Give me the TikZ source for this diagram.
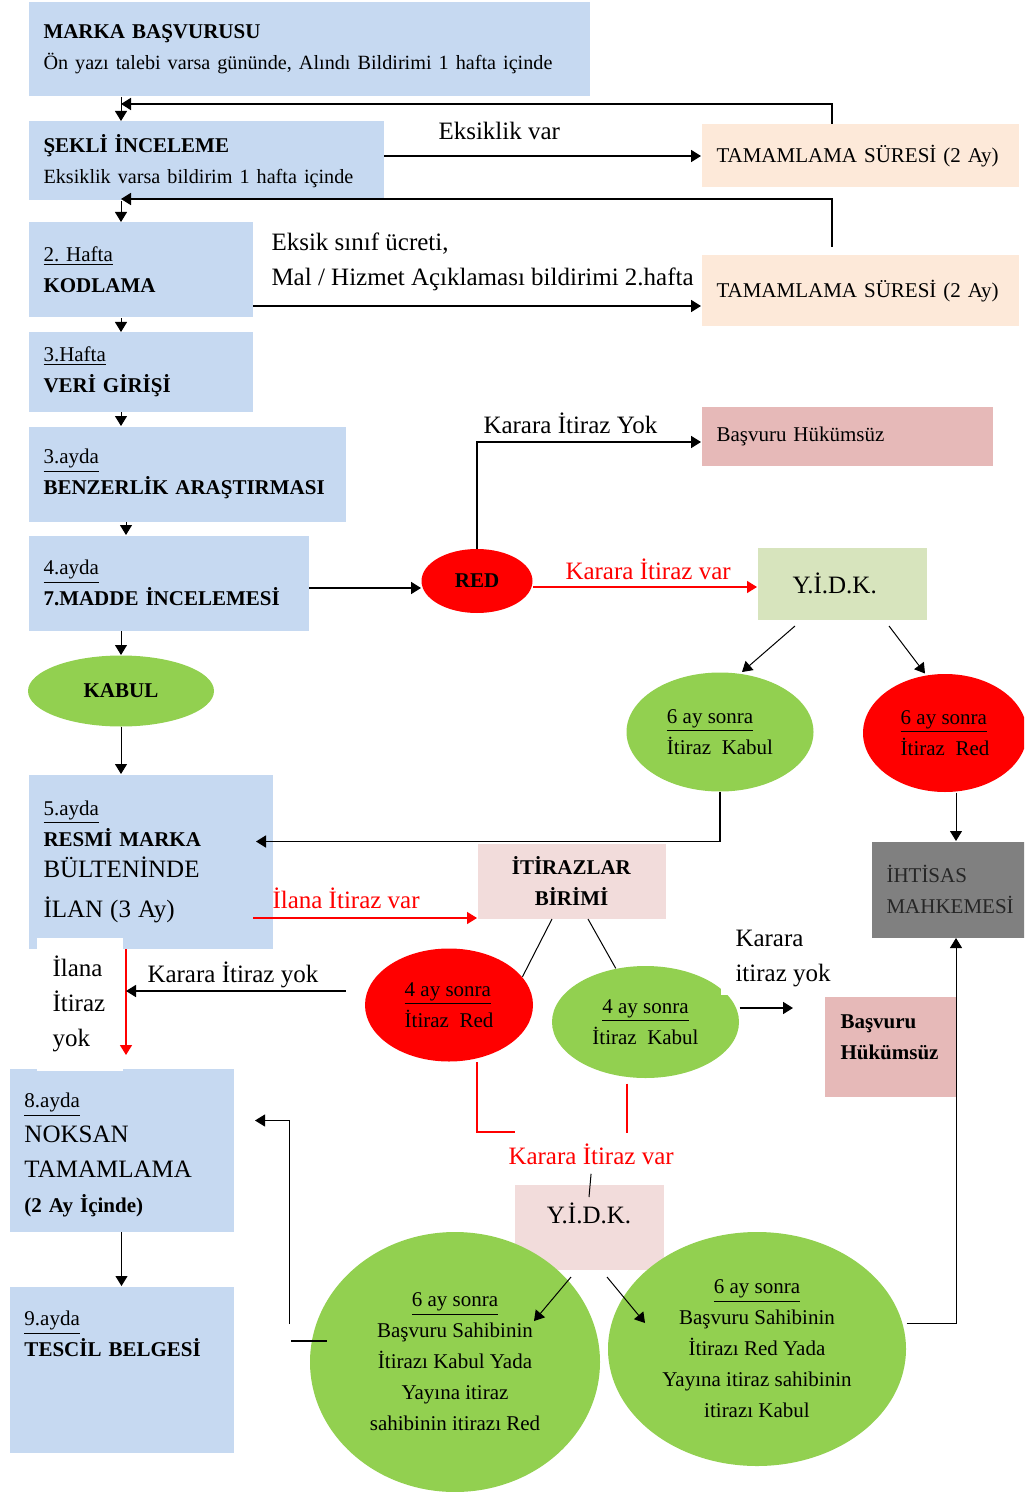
\documentclass[tikz,border=0pt]{standalone}
\usepackage{fontspec}
\setmainfont{Liberation Serif}
\usetikzlibrary{shapes.geometric, arrows.meta, positioning}

\definecolor{boxblue}{RGB}{198,217,241}
\definecolor{boxpeach}{RGB}{253,233,217}
\definecolor{boxrose}{RGB}{230,185,184}
\definecolor{boxsage}{RGB}{215,228,189}
\definecolor{boxpink}{RGB}{242,220,219}
\definecolor{boxgrey}{RGB}{128,128,128}
\definecolor{ovalgreen}{RGB}{146,208,80}
\definecolor{ovalred}{RGB}{255,0,0}

\newcommand{\txtS}{\fontsize{10.5}{15.5}\selectfont}
\newcommand{\txtN}{\fontsize{10.1}{15.5}\selectfont}
\newcommand{\txtL}{\fontsize{12.5}{17.5}\selectfont}
\frenchspacing

\begin{document}
\begin{tikzpicture}[>={Triangle[length=5pt,width=6pt]}, x=0.5pt, y=-0.5pt, line width=0.5pt]
	\tikzstyle{bluebox}=[fill=boxblue, anchor=north west, align=left, inner xsep=7.5pt, inner ysep=0pt, font=\txtS]
	\tikzstyle{sidebox}=[anchor=north west, align=left, inner xsep=7.5pt, inner ysep=0pt, font=\txtS]
	\tikzstyle{oval}=[ellipse, inner sep=0pt, align=left, font=\txtS]
	\tikzstyle{lbl}=[inner sep=0pt, anchor=base west, font=\txtL]
	\tikzstyle{heavy}=[line width=0.85pt]
	\tikzstyle{redline}=[draw=ovalred, line width=0.7pt]

	\clip (0,0) rectangle (1024,1492);

	\node[bluebox, text width=265.5pt, minimum height=47pt] (basvuru) at (28,2)
		{\textbf{MARKA BAŞVURUSU}\\{\txtN Ön yazı talebi varsa gününde, Alındı Bildirimi 1 hafta içinde}};
	\node[bluebox, text width=162.5pt, minimum height=39.5pt] (sekli) at (28,121)
		{\textbf{ŞEKLİ İNCELEME}\\{\txtN Eksiklik varsa bildirim 1 hafta içinde}};
	\node[bluebox, text width=97pt, minimum height=47.5pt] (kodlama) at (28,222)
		{\underline{2. Hafta}\\\textbf{KODLAMA}};
	\node[bluebox, text width=97pt, minimum height=39.5pt] (veri) at (28,332)
		{\underline{3.Hafta}\\\textbf{VERİ GİRİŞİ}};
	\node[bluebox, text width=143.5pt, minimum height=47.5pt] (benzerlik) at (28,426)
		{\underline{3.ayda}\\\textbf{BENZERLİK ARAŞTIRMASI}};
	\node[bluebox, text width=125pt, minimum height=47.5pt] (madde) at (28,535)
		{\underline{4.ayda}\\\textbf{7.MADDE İNCELEMESİ}};
	\node[oval, fill=ovalgreen, minimum width=93pt, minimum height=35.5pt] (kabul) at (121,691)
		{\textbf{KABUL}};
	\node[bluebox, text width=107pt, minimum height=87pt] (resmi) at (28,774)
		{\underline{5.ayda}\\\textbf{RESMİ MARKA}\\{\txtL BÜLTENİNDE}\\[4.5pt]{\txtL İLAN (3 Ay)}};
	\node[bluebox, text width=97pt, minimum height=81.5pt] (noksan) at (9,1068)
		{\mbox{}\\[-3pt]\underline{8.ayda}\\[2pt]{\txtL NOKSAN}\\[2pt]{\txtL TAMAMLAMA}\\[2pt]\textbf{(2 Ay İçinde)}};
	\node[bluebox, text width=97pt, minimum height=83pt] (tescil) at (9,1286)
		{\underline{9.ayda}\\\textbf{TESCİL BELGESİ}\\[20pt]\mbox{}};
	\node[sidebox, fill=white, text width=27pt, inner xsep=8pt, minimum height=66.5pt, font=\txtL] (ilanyok) at (36,937)
		{İlana\\İtiraz\\yok};

	\node[sidebox, fill=boxpeach, text width=143.5pt, minimum height=31.5pt] (tamamlamaA) at (701,124)
		{TAMAMLAMA SÜRESİ (2 Ay)};
	\node[sidebox, fill=boxpeach, text width=143.5pt, minimum height=35.5pt] (tamamlamaB) at (701,255)
		{TAMAMLAMA SÜRESİ (2 Ay)};
	\node[sidebox, fill=boxrose, text width=130.5pt, minimum height=29.5pt] (hukumsuzA) at (701,406)
		{Başvuru Hükümsüz};
	\node[sidebox, fill=boxsage, text width=49.5pt, inner xsep=17.5pt, minimum height=36pt, font=\txtL] (yidkA) at (757,547)
		{Y.İ.D.K.};
	\node[oval, fill=ovalred, minimum width=55.5pt, minimum height=32pt] (red) at (477,581)
		{\textbf{RED}};
	\node[oval, fill=ovalgreen, minimum width=93.5pt, minimum height=59.5pt] (kabulA) at (720,732)
		{\underline{6 ay sonra}\\İtiraz~ Kabul};
	\node[oval, fill=ovalred, minimum width=82pt, minimum height=59pt] (redA) at (945,733)
		{\underline{6 ay sonra}\\İtiraz~ Red};
	\node[sidebox, fill=boxgrey, text=black!85, text width=65pt, minimum height=48pt] (mahkeme) at (871,841)
		{İHTİSAS\\MAHKEMESİ};
	\node[sidebox, fill=boxpink, align=center, minimum width=94pt, minimum height=37.5pt] (itirazlar) at (477,843)
		{\textbf{İTİRAZLAR}\\\textbf{BİRİMİ}};
	\node[oval, fill=ovalred, minimum width=84pt, minimum height=56.5pt] (redB) at (449,1005)
		{\underline{4 ay sonra}\\İtiraz~ Red};
	\node[oval, fill=ovalgreen, align=center, minimum width=93.5pt, minimum height=56pt] (kabulB) at (645.5,1022)
		{\underline{4 ay sonra}\\İtiraz~ Kabul};
	\node[sidebox, fill=boxrose, text width=49.5pt, inner xsep=8pt, minimum height=50pt] (hukumsuzB) at (824,996)
		{\textbf{Başvuru}\\\textbf{Hükümsüz}\\[-6pt]\mbox{}};
	\node[sidebox, fill=boxpink, align=center, minimum width=74.5pt, minimum height=42.5pt, font=\txtL] (yidkB) at (514,1184)
		{Y.İ.D.K.\\[-4pt]\mbox{}};
	\node[oval, fill=ovalgreen, align=center, minimum width=145pt, minimum height=130pt] (bigL) at (455,1362)
		{\underline{6 ay sonra}\\Başvuru Sahibinin\\İtirazı Kabul Yada\\Yayına itiraz\\sahibinin itirazı Red};
	\node[oval, fill=ovalgreen, align=center, minimum width=149pt, minimum height=117pt] (bigR) at (757,1349)
		{\underline{6 ay sonra}\\Başvuru Sahibinin\\İtirazı Red Yada\\Yayına itiraz sahibinin\\itirazı Kabul};

	\node[lbl] (eksiklik) at (438,140) {Eksiklik var};
	\node[lbl, anchor=west, align=left] (eksiksinif) at (271,262)
		{Eksik sınıf ücreti,\\Mal / Hizmet Açıklaması bildirimi 2.hafta};
	\node[lbl] (yokA) at (483,433) {Karara İtiraz Yok};
	\node[lbl, text=ovalred] (varA) at (565,579) {Karara İtiraz var};
	\node[lbl, text=ovalred] (ilanvar) at (272,908) {İlana İtiraz var};
	\node[lbl] (yokB) at (147,982) {Karara İtiraz yok};
	\node[lbl, anchor=north west, align=left, fill=white, inner xsep=7.5pt, inner ysep=4pt] (yokC) at (720,922)
		{Karara\\itiraz yok};
	\node[lbl, text=ovalred] (varB) at (508,1164) {Karara İtiraz var};

	\coordinate (kodlamaout) at ([yshift=6pt]kodlama.south east);
	\coordinate (maddeout) at ([yshift=-2.5pt]madde.east);
	\coordinate (redout) at ([yshift=-3pt]red.east);
	\coordinate (resmiin) at ([xshift=-8.5pt,yshift=10pt]resmi.east);
	\coordinate (mahkemetop) at ([xshift=42.5pt]mahkeme.north west);
	\coordinate (mahkemebot) at ([xshift=42.5pt]mahkeme.south west);
	\coordinate (ilanout) at ([xshift=-10pt]resmi.south east);
	\coordinate (itirazin) at ([yshift=0.5pt]itirazlar.south west);
	\coordinate (ilandown) at ([xshift=49pt]resmi.south west);
	\coordinate (yokout) at ([xshift=-9.5pt,yshift=7pt]redB.west);
	\coordinate (kabulout) at ([yshift=7pt]kabulB.east);
	\coordinate (hukumsuzin) at ([xshift=-15.5pt]hukumsuzB.west);
	\coordinate (kabulred) at ([xshift=-9.25pt,yshift=-2.5pt]kabulB.south);
	\coordinate (varBtop) at ([yshift=5pt]varB.north);
	\coordinate (stub) at ([xshift=8.5pt,yshift=10.5pt]bigL.west);
	\coordinate (noksanline) at ([xshift=28.5pt]noksan.east);

	\draw[->] ([xshift=46.5pt]basvuru.south west) -- ([xshift=46.5pt]sekli.north west);
	\draw[->, heavy] ([xshift=65.5pt]tamamlamaA.north west) |- ([xshift=46.5pt,yshift=-3.5pt]basvuru.south west);
	\draw[->, heavy] (sekli.east |- tamamlamaA.west) -- (tamamlamaA.west);
	\draw[->] ([xshift=46.5pt]sekli.south west) -- ([xshift=46.5pt]kodlama.north west);
	\draw[->, heavy] ([xshift=65.5pt,yshift=4pt]tamamlamaB.north west) |- ([xshift=46.5pt,yshift=1pt]sekli.south west);
	\draw[->, heavy] (kodlamaout) -- (kodlamaout -| tamamlamaB.west);
	\draw[->] ([xshift=46.5pt]kodlama.south west) -- ([xshift=46.5pt]veri.north west);
	\draw[->] ([xshift=46.5pt]veri.south west) -- ([xshift=46.5pt]benzerlik.north west);
	\draw[->] ([xshift=49pt]benzerlik.south west) -- ([xshift=49pt]madde.north west);
	\draw[->, heavy] (maddeout) -- (maddeout -| red.west);
	\draw[->] ([xshift=46.5pt]madde.south west) -- (kabul.north);
	\draw[->] (kabul.south) -- ([xshift=46.5pt]resmi.north west);
	\draw[->] (noksan.south) -- (tescil.north);

	\draw[->, heavy] (red.north) |- ([yshift=-3pt]hukumsuzA.west);
	\draw[->, redline] (redout) -- (redout -| yidkA.west);
	\draw[->] ([xshift=19pt,yshift=-3pt]yidkA.south west) -- ([xshift=11pt]kabulA.north);
	\draw[->] ([xshift=66pt,yshift=-3pt]yidkA.south west) -- ([xshift=-10pt]redA.north);
	\draw[->, heavy] (kabulA.south) |- (resmiin);
	\draw[->] (mahkemetop |- redA.south) -- (mahkemetop);

	\draw[->, redline] (ilanout |- itirazin) -- (itirazin);
	\draw[->, redline] (ilandown) -- ([xshift=58.5pt,yshift=6.5pt]noksan.north west);
	\draw ([xshift=37.5pt]itirazlar.south west) -- (redB.21);
	\draw ([xshift=55.5pt]itirazlar.south west) -- (kabulB.119);
	\draw[->, heavy] (yokout) -- (yokout -| ilandown);
	\draw[->, heavy] (kabulout) -- (kabulout -| hukumsuzin);
	\draw[redline] ([xshift=14pt]redB.south) |- ([xshift=3.5pt,yshift=5.5pt]varB.north west);
	\draw[redline] (kabulred) -- (kabulred |- varBtop);
	\draw ([yshift=-4.5pt]varB.south) -- ([yshift=-6.5pt]yidkB.north);

	\draw[->] ([xshift=28.5pt,yshift=-3.5pt]yidkB.south west) -- ([xshift=39.5pt,yshift=20.5pt]bigL.center);
	\draw[->] ([xshift=46.5pt,yshift=-3.5pt]yidkB.south west) -- ([xshift=-56pt,yshift=13pt]bigR.center);
	\draw[heavy] (stub) -- (stub -| noksanline);
	\draw[->] ([xshift=-10pt,yshift=19pt]bigL.west) |- ([xshift=10.5pt,yshift=14.75pt]noksan.east);
	\draw[->] ([yshift=13pt]bigR.east) -| (mahkemebot);
\end{tikzpicture}
\end{document}
